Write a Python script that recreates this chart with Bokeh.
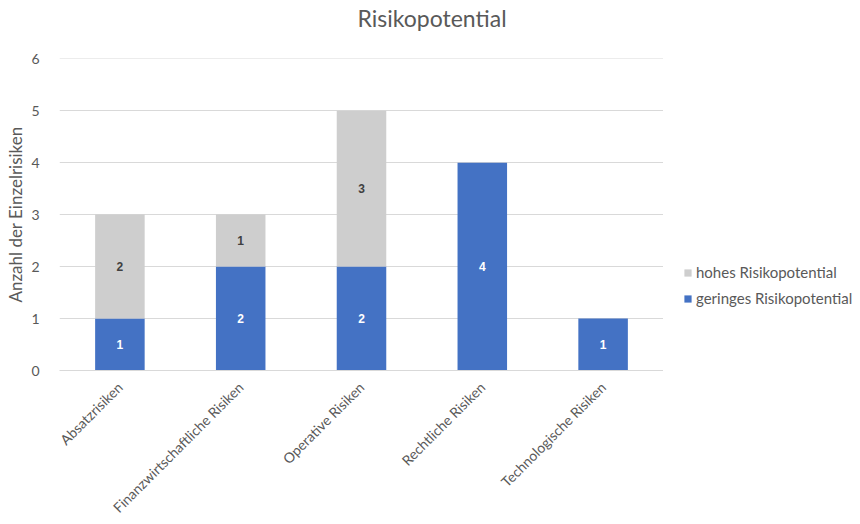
import math
from bokeh.plotting import figure
from bokeh.layouts import row
from bokeh.core.properties import value
from bokeh.models import ColumnDataSource, LabelSet, Legend, LegendItem, FixedTicker, Range1d
from bokeh.embed import file_html
from bokeh.resources import INLINE

categories = ["Absatzrisiken", "Finanzwirtschaftliche Risiken", "Operative Risiken",
              "Rechtliche Risiken", "Technologische Risiken"]
geringes = [1, 2, 2, 4, 1]
hohes = [2, 1, 3, 0, 0]
y_ticks = [0, 1, 2, 3, 4, 5, 6]
series_labels = ["geringes Risikopotential", "hohes Risikopotential"]
title_text = "Risikopotential"

BLUE = "#4472C4"
GREY = "#CECECE"
TXT = "#595959"
FONT = "Lato"
BFONT = "Liberation Sans"

src = ColumnDataSource(dict(cat=categories, geringes=geringes, hohes=hohes))

p = figure(x_range=categories, y_range=Range1d(0, 6.004), width=663, height=524,
           output_backend="svg", toolbar_location=None,
           min_border_left=59, min_border_right=0, min_border_top=57, min_border_bottom=153)

r = p.vbar_stack(["geringes", "hohes"], x="cat", width=0.41, fill_color=[BLUE, GREY],
                 line_color=None, source=src)

# labels
g_lab = ColumnDataSource(dict(
    cat=[c for c, v in zip(categories, geringes) if v > 0],
    y=[v / 2 for v in geringes if v > 0],
    t=[str(v) for v in geringes if v > 0]))
h_lab = ColumnDataSource(dict(
    cat=[c for c, g, h in zip(categories, geringes, hohes) if h > 0],
    y=[g + h / 2 for g, h in zip(geringes, hohes) if h > 0],
    t=[str(h) for h in hohes if h > 0]))
p.add_layout(LabelSet(x="cat", y="y", text="t", source=g_lab, text_align="center",
                      text_baseline="middle", text_color="white", text_font=value(BFONT),
                      text_font_style="bold", text_font_size="12px"))
p.add_layout(LabelSet(x="cat", y="y", text="t", source=h_lab, text_align="center",
                      text_baseline="middle", text_color="#404040", text_font=value(BFONT),
                      text_font_style="bold", text_font_size="12px"))

p.title.text = title_text + "\n "
p.title.align = "left"
p.title.offset = 298
p.title.text_font = FONT
p.title.text_font_size = "23px"
p.title.text_font_style = "normal"
p.title.text_color = TXT
p.title.text_line_height = 0.92
p.title.standoff = 2

p.yaxis.ticker = FixedTicker(ticks=y_ticks)
p.yaxis.axis_label = "Anzahl der Einzelrisiken"
p.yaxis.axis_label_text_font = FONT
p.yaxis.axis_label_text_font_size = "17px"
p.yaxis.axis_label_text_font_style = "normal"
p.yaxis.axis_label_text_color = TXT
p.yaxis.axis_label_standoff = 2
p.yaxis.major_label_text_font = FONT
p.yaxis.major_label_text_font_size = "14px"
p.yaxis.major_label_text_color = TXT
p.yaxis.major_label_standoff = 14
p.yaxis.axis_line_color = None
p.yaxis.major_tick_line_color = None
p.yaxis.minor_tick_line_color = None

p.xaxis.major_label_orientation = math.pi / 4
p.xaxis.major_label_text_font = FONT
p.xaxis.major_label_text_font_size = "14px"
p.xaxis.major_label_text_color = TXT
p.xaxis.major_label_standoff = 8
p.xaxis.axis_line_color = "#D9D9D9"
p.xaxis.major_tick_line_color = None

p.xgrid.grid_line_color = None
p.ygrid.grid_line_color = "#D9D9D9"
p.outline_line_color = None
p.x_range.range_padding = 0

# legend panel
lg = figure(width=197, height=524, x_range=Range1d(0, 1), y_range=Range1d(0, 1),
            output_backend="svg", toolbar_location=None,
            min_border=0, min_border_left=0, min_border_right=0,
            min_border_top=0, min_border_bottom=0)
lg.axis.visible = False
lg.grid.grid_line_color = None
lg.outline_line_color = None
d_g = lg.vbar(x=[5], top=[5], bottom=[4], width=0.1, fill_color=BLUE, line_color=None)
d_h = lg.vbar(x=[5], top=[5], bottom=[4], width=0.1, fill_color=GREY, line_color=None)
legend = Legend(items=[LegendItem(label=series_labels[1], renderers=[d_h]),
                       LegendItem(label=series_labels[0], renderers=[d_g])],
                location=(20, 63), glyph_width=9, glyph_height=9, spacing=8,
                label_text_font=FONT, label_text_font_size="15px", label_text_color=TXT,
                border_line_color=None, background_fill_alpha=0, padding=0, margin=0,
                label_standoff=4)
lg.add_layout(legend, "center")

layout = row(p, lg)
open("out.html", "w").write(file_html(layout, INLINE))
